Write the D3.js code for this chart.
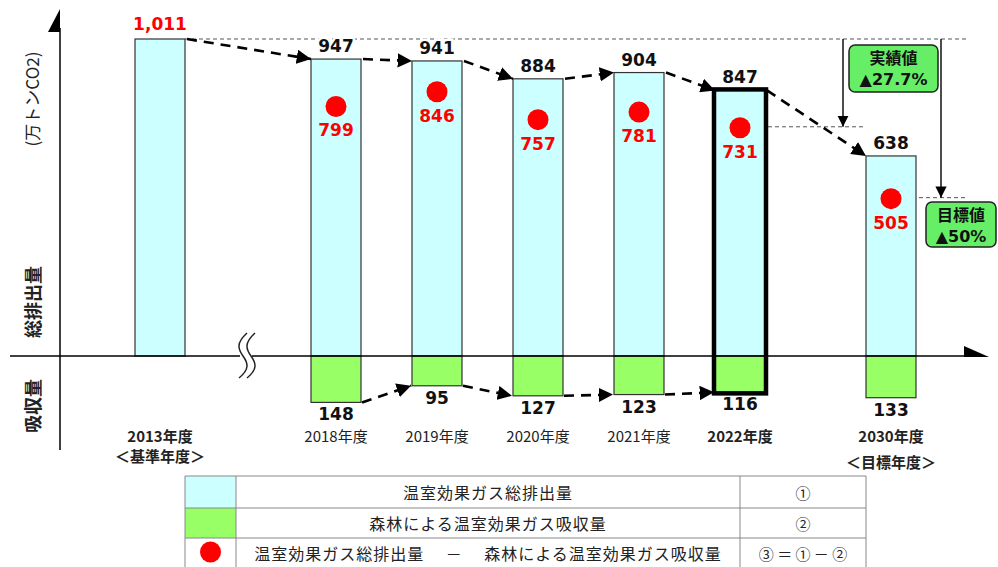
<!DOCTYPE html>
<html>
<head>
<meta charset="utf-8">
<script src="https://cdn.jsdelivr.net/npm/d3@7"></script>
<style>
	body { margin: 0; background: #fff; }
	svg { display: block; }
</style>
</head>
<body>
<div id="content"></div>
<script>
// 年度と値（万トンCO2）
var years = [2013, 2018, 2019, 2020, 2021, 2022, 2030];
var yearLabels = ["2013年度", "2018年度", "2019年度", "2020年度", "2021年度", "2022年度", "2030年度"];
var subLabels = ["＜基準年度＞", "", "", "", "", "", "＜目標年度＞"];
var boldYears = [2013, 2022, 2030];
var emissions = [1011, 947, 941, 884, 904, 847, 638];
var absorption = [null, 148, 95, 127, 123, 116, 133];
var net = [null, 799, 846, 757, 781, 731, 505];
var legendLabels = ["温室効果ガス総排出量", "森林による温室効果ガス吸収量", "温室効果ガス総排出量　 －　 森林による温室効果ガス吸収量"];
var legendFormulas = ["①", "②", "③ ＝ ① － ②"];

var cyan = "#ccffff";
var green = "#99ff66";
var red = "#ff0000";
var jp = "'Noto Sans CJK JP', sans-serif";
var num = "'DejaVu Sans', Verdana, sans-serif";

function main() {
	var width = 998, height = 567;
	var svg = d3.select("#content").append("svg")
		.attr("width", width)
		.attr("height", height);

	var defs = svg.append("defs");
	defs.append("marker")
		.attr("id", "arrow")
		.attr("viewBox", "0 0 10 10")
		.attr("refX", 10).attr("refY", 5)
		.attr("markerWidth", 5.5).attr("markerHeight", 5.5)
		.attr("markerUnits", "strokeWidth")
		.attr("orient", "auto")
		.append("path").attr("d", "M0,0 L10,5 L0,10 Z").attr("fill", "#000");
	defs.append("marker")
		.attr("id", "arrowThin")
		.attr("viewBox", "0 0 10 10")
		.attr("refX", 10).attr("refY", 5)
		.attr("markerWidth", 8).attr("markerHeight", 8)
		.attr("markerUnits", "strokeWidth")
		.attr("orient", "auto")
		.append("path").attr("d", "M0,0 L10,5 L0,10 Z").attr("fill", "#000");

	// 年度軸は 2013 と 2018 の間で省略（折れ線スケール）
	var x = d3.scaleLinear()
		.domain([2013, 2018, 2022, 2030])
		.range([160, 336, 740, 891]);
	var y = d3.scaleLinear()
		.domain([0, 1011])
		.range([356, 39]);
	var bw = 50;

	var idx = d3.range(years.length);

	// 参照用の点線
	var guides = svg.append("g")
		.attr("stroke", "#555")
		.attr("stroke-width", 1)
		.attr("stroke-dasharray", "4,3");
	guides.append("line")
		.attr("x1", x(2013) + bw / 2).attr("x2", 966)
		.attr("y1", y(emissions[0])).attr("y2", y(emissions[0]));
	guides.append("line")
		.attr("x1", x(2022)).attr("x2", x(2022) + 126)
		.attr("y1", y(net[5])).attr("y2", y(net[5]));
	guides.append("line")
		.attr("x1", x(2030)).attr("x2", 966)
		.attr("y1", y(net[6])).attr("y2", y(net[6]));

	// 排出量の棒
	svg.append("g").selectAll("rect")
		.data(idx)
		.enter().append("rect")
		.attr("x", function (i) { return x(years[i]) - bw / 2; })
		.attr("y", function (i) { return y(emissions[i]); })
		.attr("width", bw)
		.attr("height", function (i) { return y(0) - y(emissions[i]); })
		.attr("fill", cyan)
		.attr("stroke", "#333")
		.attr("stroke-width", 1.2);

	// 吸収量の棒
	var absIdx = idx.filter(function (i) { return absorption[i] != null; });
	svg.append("g").selectAll("rect")
		.data(absIdx)
		.enter().append("rect")
		.attr("x", function (i) { return x(years[i]) - bw / 2; })
		.attr("y", y(0))
		.attr("width", bw)
		.attr("height", function (i) { return y(-absorption[i]) - y(0); })
		.attr("fill", green)
		.attr("stroke", "#333")
		.attr("stroke-width", 1.2);

	// 軸
	var axis = svg.append("g").attr("stroke", "#000").attr("stroke-width", 1.5);
	axis.append("line").attr("x1", 10).attr("x2", 975).attr("y1", y(0)).attr("y2", y(0));
	axis.append("line").attr("x1", 60).attr("x2", 60).attr("y1", 28).attr("y2", 450);
	svg.append("path")
		.attr("d", "M60,9 L60,32 L48,32 Z").attr("fill", "#000");
	svg.append("path")
		.attr("d", "M989,357 L964,357 L964,346 Z").attr("fill", "#000");

	// 省略記号
	var brk = svg.append("g");
	brk.append("rect").attr("x", 240).attr("y", 350).attr("width", 12).attr("height", 12).attr("fill", "#fff");
	[243, 251].forEach(function (bx) {
		brk.append("path")
			.attr("d", "M" + (bx + 4) + ",333 C" + (bx - 7) + ",343 " + (bx - 5) + ",349 " + bx + ",356 S" + (bx + 7) + ",369 " + (bx - 4) + ",378")
			.attr("fill", "none")
			.attr("stroke", "#222")
			.attr("stroke-width", 1.5);
	});

	// 2022年度の強調枠
	var hi = years.indexOf(2022);
	svg.append("rect")
		.attr("x", x(2022) - bw / 2 - 1)
		.attr("y", y(emissions[hi]) - 1)
		.attr("width", bw + 2)
		.attr("height", y(-absorption[hi]) - y(emissions[hi]) + 2)
		.attr("fill", "none")
		.attr("stroke", "#000")
		.attr("stroke-width", 4.5);

	// 破線の矢印（排出量）
	var topArrows = svg.append("g");
	for (var i = 0; i < years.length - 1; i++) {
		topArrows.append("line")
			.attr("x1", x(years[i]) + bw / 2 + 2).attr("y1", y(emissions[i]))
			.attr("x2", x(years[i + 1]) - bw / 2).attr("y2", y(emissions[i + 1]))
			.attr("stroke", "#000")
			.attr("stroke-width", 2.6)
			.attr("stroke-dasharray", "10,7")
			.attr("marker-end", "url(#arrow)");
	}
	// 破線の矢印（吸収量）
	for (var j = 1; j < years.length - 2; j++) {
		topArrows.append("line")
			.attr("x1", x(years[j]) + bw / 2 + 1).attr("y1", y(-absorption[j]))
			.attr("x2", x(years[j + 1]) - bw / 2 - 1).attr("y2", y(-absorption[j + 1]))
			.attr("stroke", "#000")
			.attr("stroke-width", 2.6)
			.attr("stroke-dasharray", "10,7")
			.attr("marker-end", "url(#arrow)");
	}

	// 縦の矢印
	var vx1 = x(2022) + 103, vx2 = x(2030) + 50;
	svg.append("line")
		.attr("x1", vx1).attr("x2", vx1)
		.attr("y1", y(emissions[0])).attr("y2", y(net[5]))
		.attr("stroke", "#000").attr("stroke-width", 1.4)
		.attr("marker-end", "url(#arrowThin)");
	svg.append("line")
		.attr("x1", vx2).attr("x2", vx2)
		.attr("y1", y(emissions[0])).attr("y2", y(net[6]))
		.attr("stroke", "#000").attr("stroke-width", 1.4)
		.attr("marker-end", "url(#arrowThin)");

	// 差引（赤丸）
	var netIdx = idx.filter(function (i) { return net[i] != null; });
	svg.append("g").selectAll("circle")
		.data(netIdx)
		.enter().append("circle")
		.attr("cx", function (i) { return x(years[i]); })
		.attr("cy", function (i) { return y(net[i]) + 1; })
		.attr("r", 10.5)
		.attr("fill", red);
	svg.append("g").selectAll("text")
		.data(netIdx)
		.enter().append("text")
		.attr("x", function (i) { return x(years[i]); })
		.attr("y", function (i) { return y(net[i]) + 31; })
		.attr("text-anchor", "middle")
		.attr("font-family", num)
		.attr("font-weight", "bold")
		.attr("font-size", 17)
		.attr("fill", red)
		.text(function (i) { return net[i]; });

	// 排出量ラベル
	svg.append("g").selectAll("text")
		.data(idx)
		.enter().append("text")
		.attr("x", function (i) { return x(years[i]); })
		.attr("y", function (i) { return y(emissions[i]) - (i == 0 ? 9 : 7); })
		.attr("text-anchor", "middle")
		.attr("font-family", num)
		.attr("font-weight", "bold")
		.attr("font-size", 17)
		.attr("fill", function (i) { return i == 0 ? red : "#111"; })
		.attr("stroke", "#fff")
		.attr("stroke-width", 5)
		.attr("paint-order", "stroke")
		.text(function (i) { return d3.format(",")(emissions[i]); });

	// 吸収量ラベル
	svg.append("g").selectAll("text")
		.data(absIdx)
		.enter().append("text")
		.attr("x", function (i) { return x(years[i]); })
		.attr("y", function (i) { return y(-absorption[i]) + 18; })
		.attr("text-anchor", "middle")
		.attr("font-family", num)
		.attr("font-weight", "bold")
		.attr("font-size", 17)
		.attr("fill", "#111")
		.text(function (i) { return absorption[i]; });

	// 年度ラベル
	var yl = svg.append("g").attr("font-family", jp).attr("text-anchor", "middle").attr("fill", "#222");
	yl.selectAll(".yr")
		.data(idx)
		.enter().append("text")
		.attr("class", "yr")
		.attr("x", function (i) { return x(years[i]); })
		.attr("y", 442)
		.attr("font-size", 15)
		.attr("font-weight", function (i) { return boldYears.indexOf(years[i]) >= 0 ? "bold" : "normal"; })
		.text(function (i) { return yearLabels[i]; });
	yl.selectAll(".sub")
		.data(idx.filter(function (i) { return subLabels[i] != ""; }))
		.enter().append("text")
		.attr("class", "sub")
		.attr("x", function (i) { return x(years[i]); })
		.attr("y", function (i) { return i == 0 ? 462 : 468; })
		.attr("font-size", 15)
		.attr("font-weight", "bold")
		.text(function (i) { return subLabels[i]; });

	// 縦軸ラベル
	function vlabel(text, cx, cy, bold, size) {
		svg.append("text")
			.attr("transform", "translate(" + cx + "," + cy + ") rotate(-90)")
			.attr("text-anchor", "middle")
			.attr("dominant-baseline", "central")
			.attr("font-family", jp)
			.attr("font-size", size)
			.attr("font-weight", bold ? "bold" : "normal")
			.attr("fill", "#222")
			.text(text);
	}
	vlabel("(万トンCO2)", 31, 99, false, 17);
	vlabel("総排出量", 32, 302, true, 18);
	vlabel("吸収量", 32, 406, true, 18);

	// 吹き出し
	function callout(bx, by, bwid, bht, line1, line2) {
		var g = svg.append("g");
		g.append("rect")
			.attr("x", bx).attr("y", by)
			.attr("width", bwid).attr("height", bht)
			.attr("rx", 6)
			.attr("fill", "#66ee66")
			.attr("stroke", "#222")
			.attr("stroke-width", 1.5);
		g.append("text")
			.attr("x", bx + bwid / 2).attr("y", by + 19)
			.attr("text-anchor", "middle")
			.attr("font-family", jp).attr("font-weight", "bold").attr("font-size", 16)
			.attr("fill", "#111")
			.text(line1);
		g.append("text")
			.attr("x", bx + bwid / 2).attr("y", by + 40)
			.attr("text-anchor", "middle")
			.attr("font-family", num).attr("font-weight", "bold").attr("font-size", 16)
			.attr("fill", "#111")
			.text(line2);
	}
	callout(849, 45, 89, 47, "実績値", "▲27.7%");
	callout(926, 202, 70, 45, "目標値", "▲50%");

	// 凡例の表
	var lx = 185, lw = 681, c1 = 236, c2 = 740;
	var rowTops = [476, 508, 538, 568];
	var lg = svg.append("g");
	lg.append("rect").attr("x", lx).attr("y", rowTops[0]).attr("width", c1 - lx).attr("height", rowTops[1] - rowTops[0]).attr("fill", cyan);
	lg.append("rect").attr("x", lx).attr("y", rowTops[1]).attr("width", c1 - lx).attr("height", rowTops[2] - rowTops[1]).attr("fill", green);
	lg.append("circle").attr("cx", (lx + c1) / 2).attr("cy", (rowTops[2] + rowTops[3]) / 2 - 1).attr("r", 10.5).attr("fill", red);
	var grid = lg.append("g").attr("stroke", "#888").attr("stroke-width", 1);
	rowTops.slice(0, 3).forEach(function (ry) {
		grid.append("line").attr("x1", lx).attr("x2", lx + lw).attr("y1", ry).attr("y2", ry);
	});
	[lx, c1, c2, lx + lw].forEach(function (cx) {
		grid.append("line").attr("x1", cx).attr("x2", cx).attr("y1", rowTops[0]).attr("y2", height);
	});
	legendLabels.forEach(function (t, k) {
		var cy = (rowTops[k] + rowTops[k + 1]) / 2;
		lg.append("text")
			.attr("x", (c1 + c2) / 2).attr("y", cy)
			.attr("text-anchor", "middle").attr("dominant-baseline", "central")
			.attr("font-family", jp).attr("font-size", 16).attr("letter-spacing", 1).attr("fill", "#222")
			.text(t);
		lg.append("text")
			.attr("x", (c2 + lx + lw) / 2).attr("y", cy)
			.attr("text-anchor", "middle").attr("dominant-baseline", "central")
			.attr("font-family", jp).attr("font-size", 15).attr("fill", "#222")
			.text(legendFormulas[k]);
	});
}

main();
</script>
</body>
</html>
